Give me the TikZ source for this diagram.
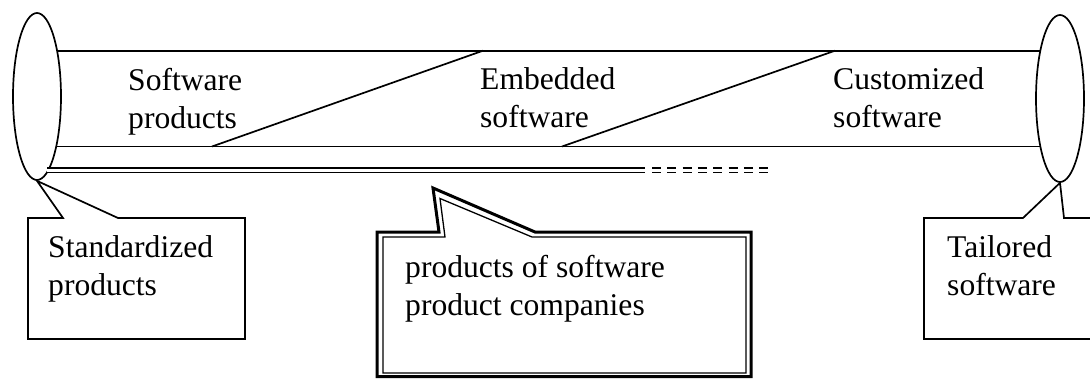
\documentclass[tikz,border=0pt]{standalone}
\usepackage{fontspec}
\setmainfont{Liberation Serif}
\usetikzlibrary{shapes.geometric}
\begin{document}
\begin{tikzpicture}[x=1pt,y=-1pt,
  % a two-line label is placed by the baseline of its second line
  lbl/.style={anchor=base west, align=left, inner sep=0pt,
    font=\fontsize{31.6}{38}\selectfont},
  stroke/.style={line width=1.7pt},
  endcap/.style={ellipse, draw, fill=white, line width=1.7pt, inner sep=0pt,
    minimum width=48pt, minimum height=167pt},
  bubble/.style={draw, fill=white, line width=1.7pt, line join=miter},
  rail/.style={draw=black, line width=1.4pt, double=white, double distance=3.2pt}
]
\useasboundingbox (0,0) rectangle (1090,378);
\clip (0,0) rectangle (1090,378);

% tube between the two end caps
\draw[stroke] (37,50.7) -- (1060,50.7);
\draw[stroke] (37,146.5) -- (1060,146.5);
% slanted dividers inside the tube
\coordinate (d1a) at (212,146.5);
\coordinate (d1b) at (483,50.7);
\coordinate (d2a) at (562,146.5);
\coordinate (d2b) at (835,50.7);
\draw[stroke] (d1a) -- (d1b);
\draw[stroke] (d2a) -- (d2b);

% end caps
\node[endcap] (stdend) at (37,96.5) {};
\node[endcap] (tailend) at (1060,98.5) {};

% double rail below the tube, continued dashed
\coordinate (r0) at (47,170.3);
\coordinate (r1) at (645,170.3);
\coordinate (r2) at (652,170.3);
\coordinate (r3) at (773,170.3);
\draw[rail] (r0) -- (r1);
\draw[rail, dash pattern=on 9pt off 6.3pt] (r2) -- (r3);

% tube labels
\node[lbl] (swprod) at (128,128) {Software\\products};
\node[lbl] (embsw) at (480,127) {Embedded\\software};
\node[lbl] (custsw) at (833,127) {Customized\\software};

% left callout
\draw[bubble] (28,218) -- (63,218) -- (stdend.south) -- (118,218) -- (245,218)
  -- (245,339) -- (28,339) -- cycle;
\node[lbl] (stdprod) at (48,295) {Standardized\\products};

% right callout
\draw[bubble] (924,218) -- (1023,218) -- (tailend.south) -- (1064,218) -- (1110,218)
  -- (1110,339) -- (924,339) -- cycle;
\node[lbl] (tailsw) at (947,295) {Tailored\\software};

% middle callout with thick-thin border
\draw[line width=3pt, line join=miter, fill=white]
  (377,232) -- (439,232) -- (433,188) -- (535,232) -- (751,232)
  -- (751,376.5) -- (377,376.5) -- cycle;
\draw[line width=1.3pt, line join=miter]
  (383,237) -- (445,237) -- (440,198.5) -- (532,237) -- (746,237)
  -- (746,373) -- (383,373) -- cycle;
\node[lbl] (spcprod) at (405,315) {products of software\\product companies};
\end{tikzpicture}
\end{document}
